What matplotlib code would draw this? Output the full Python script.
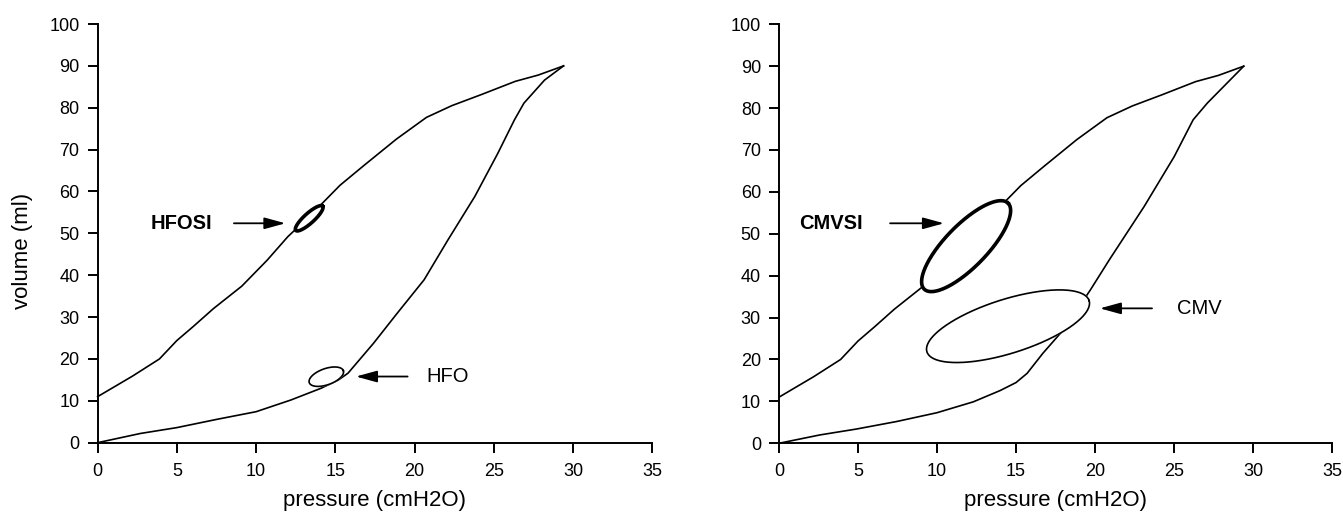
import matplotlib.pyplot as plt
import numpy as np

plt.rcParams['font.family'] = ['Liberation Sans', 'DejaVu Sans']

# P-V loops (pressure cmH2O, volume ml)
upper_p = [0, 2.2, 3.9, 5.0, 6.05, 7.3, 9.1, 10.7, 12.0, 12.9, 14.0, 15.3,
           16.8, 18.85, 20.75, 22.35, 24.25, 26.35, 27.8, 29.4]
upper_v = [11, 15.9, 20.0, 24.4, 27.8, 32.0, 37.4, 43.6, 49.2, 52.4, 56.5, 61.5,
           66.2, 72.5, 77.7, 80.5, 83.2, 86.3, 87.8, 90.0]

lower_left_p = [0, 2.7, 5.0, 7.56, 10.0, 12.2, 14.1, 15.2, 15.8, 17.4, 18.9,
                20.6, 22.1, 23.8, 25.25, 26.3, 26.9, 28.2, 29.4]
lower_left_v = [0, 2.2, 3.6, 5.6, 7.4, 10.2, 13.0, 15.0, 16.6, 23.7, 30.9,
                38.9, 48.4, 58.8, 69.1, 77.1, 81.1, 86.6, 90.0]

lower_right_p = [0, 2.6, 4.9, 7.45, 10.0, 12.3, 14.0, 15.0, 15.7, 16.7, 18.0,
                 19.7, 20.9, 23.1, 25.0, 26.2, 27.1, 29.4]
lower_right_v = [0, 2.0, 3.4, 5.2, 7.3, 9.9, 12.6, 14.5, 16.7, 21.5, 27.1,
                 36.6, 43.8, 56.5, 68.4, 77.2, 81.2, 90.0]

# small loops: centre, half major axis vector, half minor axis vector (data units)
hfosi_c, hfosi_u, hfosi_w = [13.35, 53.6], [0.85, 2.9], [-0.21, 0.88]
hfo_c, hfo_u, hfo_w = [14.43, 15.76], [1.076, 1.433], [-0.17, 1.83]
cmvsi_c, cmvsi_u, cmvsi_w = [11.84, 47.05], [2.65, 10.27], [-0.953, 3.50]
cmv_c, cmv_u, cmv_w = [14.49, 27.94], [5.13, 6.11], [-0.515, 6.15]

xticks = [0, 5, 10, 15, 20, 25, 30, 35]
yticks = [0, 10, 20, 30, 40, 50, 60, 70, 80, 90, 100]


def loop(ax, c, u, w, lw):
    t = np.linspace(0, 2 * np.pi, 300)
    x = c[0] + u[0] * np.cos(t) + w[0] * np.sin(t)
    y = c[1] + u[1] * np.cos(t) + w[1] * np.sin(t)
    # white inside so the big loop does not show through
    ax.fill(x, y, color='white', zorder=3)
    ax.plot(x, y, color='black', lw=lw, zorder=4)


def style(ax):
    ax.set_xlim(0, 35)
    ax.set_ylim(0, 100)
    ax.set_xticks(xticks)
    ax.set_yticks(yticks)
    ax.spines['right'].set_visible(False)
    ax.spines['top'].set_visible(False)
    ax.spines['left'].set_linewidth(1.4)
    ax.spines['bottom'].set_linewidth(1.4)
    ax.tick_params(direction='out', length=7.5, width=1.4, labelsize=13)
    ax.tick_params(axis='x', pad=7)
    ax.tick_params(axis='y', pad=5.5)
    ax.set_xlabel('pressure (cmH2O)', fontsize=16, labelpad=7)


def arrow(ax, tail, head, y):
    ax.annotate('', xy=(head, y), xytext=(tail, y),
                arrowprops=dict(arrowstyle='-|>,head_length=0.8,head_width=0.22',
                                lw=1.3, color='black', mutation_scale=16,
                                shrinkA=0, shrinkB=0))


fig = plt.figure(figsize=(13.43, 5.12), dpi=100)
ax1 = fig.add_axes([0.0727, 0.1354, 0.413, 0.8177])
ax2 = fig.add_axes([0.580, 0.1342, 0.412, 0.8184])

# left panel
ax1.plot(upper_p, upper_v, color='black', lw=1.2, clip_on=False, zorder=2)
ax1.plot(lower_left_p, lower_left_v, color='black', lw=1.2, clip_on=False, zorder=2)
loop(ax1, hfosi_c, hfosi_u, hfosi_w, 2.6)
loop(ax1, hfo_c, hfo_u, hfo_w, 1.2)
ax1.text(5.3, 52.4, 'HFOSI', fontsize=14.5, fontweight='bold', ha='center', va='center')
arrow(ax1, 8.6, 11.85, 52.4)
ax1.text(22.1, 15.8, 'HFO', fontsize=14.5, ha='center', va='center')
arrow(ax1, 19.56, 16.3, 15.8)
style(ax1)
ax1.set_ylabel('volume (ml)', fontsize=16)
ax1.yaxis.set_label_coords(-0.117, 0.457)

# right panel
ax2.plot(upper_p, upper_v, color='black', lw=1.2, clip_on=False, zorder=2)
ax2.plot(lower_right_p, lower_right_v, color='black', lw=1.2, clip_on=False, zorder=2)
loop(ax2, cmvsi_c, cmvsi_u, cmvsi_w, 2.6)
loop(ax2, cmv_c, cmv_u, cmv_w, 1.2)
ax2.text(3.28, 52.5, 'CMVSI', fontsize=14.5, fontweight='bold', ha='center', va='center')
arrow(ax2, 7.03, 10.44, 52.5)
ax2.text(26.6, 32.2, 'CMV', fontsize=14.5, ha='center', va='center')
arrow(ax2, 23.6, 20.3, 32.2)
style(ax2)

fig.savefig('out.png', dpi=100)
